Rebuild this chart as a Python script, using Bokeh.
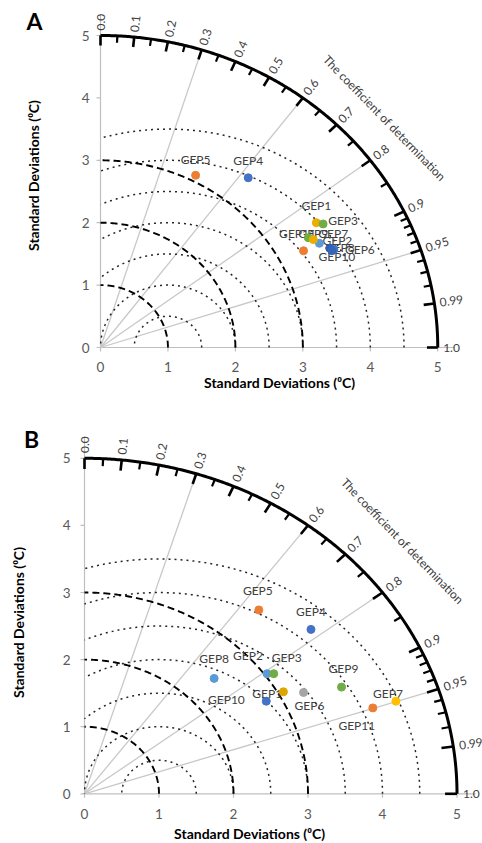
import numpy as np
from bokeh.plotting import figure
from bokeh.models import Range1d, ColumnDataSource
from bokeh.layouts import column
from bokeh.core.properties import value
from bokeh.embed import file_html
from bokeh.resources import INLINE

# ---------------- data ----------------
names = ["GEP1", "GEP2", "GEP3", "GEP4", "GEP5", "GEP6", "GEP7", "GEP8", "GEP9", "GEP10", "GEP11"]

# panel A : (x, y) in standard-deviation units
a_x = [3.20, 3.245, 3.30, 2.19, 1.41, 3.46, 3.08, 3.40, 3.155, 3.43, 3.01]
a_y = [2.00, 1.67, 1.98, 2.72, 2.76, 1.57, 1.76, 1.59, 1.73, 1.55, 1.55]

# panel B
b_x = [2.44, 2.45, 2.54, 3.04, 2.34, 2.94, 4.18, 1.74, 3.45, 2.67, 3.87]
b_y = [1.38, 1.79, 1.79, 2.45, 2.74, 1.51, 1.38, 1.72, 1.59, 1.52, 1.28]

sd_ticks = [0, 1, 2, 3, 4, 5]
sd_tick_labels = ["0", "1", "2", "3", "4", "5"]
sd_max = 5
ref_sd = 1.0
corr_major = [0.0, 0.1, 0.2, 0.3, 0.4, 0.5, 0.6, 0.7, 0.8, 0.9, 0.95, 0.99, 1.0]
corr_major_labels = ["0.0", "0.1", "0.2", "0.3", "0.4", "0.5", "0.6", "0.7", "0.8", "0.9", "0.95", "0.99", "1.0"]
corr_minor = [0.05, 0.15, 0.25, 0.35, 0.45, 0.55, 0.65, 0.75, 0.85, 0.91, 0.92, 0.93, 0.94, 0.96, 0.97, 0.98]
corr_lines = [0.3, 0.6, 0.8, 0.95]
sd_contours = [1, 2, 3]
rmsd_contours = [0.5, 1.0, 1.5, 2.0, 2.5, 3.0, 3.5]
axis_title = "Standard Deviations (⁰C)"
corr_title = "The coefficient of determination"

# ---------------- styles ----------------
a_colors = ["#E8AE00", "#5B9BD5", "#70AD47", "#4472C4", "#ED7D31", "#4472C4",
            "#70AD47", "#2F5FB3", "#E8AE00", "#3565B8", "#ED7D31"]
a_dx = [0, 18, 20, 0, 0, 26, 25, 10, 0, 5, -6]
a_dy = [-17, -3, -3, -17, -16, 0, -4, -1, -6, 6, -17]

b_colors = ["#4472C4", "#5B9BD5", "#70AD47", "#4472C4", "#ED7D31", "#A5A5A5",
            "#FFC000", "#5B9BD5", "#70AD47", "#DDA500", "#ED7D31"]
b_dx = [1, -19, 13, 0, -1, 6, -8, 0, 2, -57, -16]
b_dy = [-8, -18, -16, -18, -19, 13, -8, -20, -19, 8, 18]

FONT = "Lato"
TXT = "#404040"
W = 482


def make_fig(height, ox, oy, sx, sy):
    xr = Range1d(-ox / sx, (W - ox) / sx)
    yr = Range1d(-(height - oy) / sy, oy / sy)
    p = figure(width=W, height=height, x_range=xr, y_range=yr,
               x_axis_location=None, y_axis_location=None,
               output_backend="svg", toolbar_location=None,
               min_border_left=0, min_border_right=0, min_border_top=0, min_border_bottom=0)
    p.xgrid.visible = False
    p.ygrid.visible = False
    p.outline_line_color = None
    p.background_fill_color = "white"
    p.border_fill_color = "white"
    return p


def taylor(p, xs, ys, colors, dx, dy, letter, letter_xy, ylab_xy, xlab_xy, coef_xy,
           ylab_off, xlab_off):
    tk = np.array(sd_ticks, dtype=float)
    zeros = np.zeros_like(tk)
    # axis lines
    p.segment(x0=[0, 0], y0=[0, 0], x1=[5.25, 0], y1=[0, 5.33], line_color="#BFBFBF", line_width=1.2)
    # axis ticks (outward, 4px)
    p.ray(x=tk, y=zeros, length=4, length_units="screen", angle=-np.pi / 2,
          line_color="#BFBFBF", line_width=1.2)
    p.ray(x=zeros, y=tk, length=4, length_units="screen", angle=np.pi,
          line_color="#BFBFBF", line_width=1.2)
    p.text(x=tk, y=zeros, text=sd_tick_labels, y_offset=xlab_off, text_align="center",
           text_baseline="middle", text_font=value(FONT), text_font_size=value("13.5px"),
           text_color="#595959")
    p.text(x=zeros, y=tk, text=sd_tick_labels, x_offset=ylab_off, text_align="right",
           text_baseline="middle", text_font=value(FONT), text_font_size=value("13.5px"),
           text_color="#595959")

    # radial correlation lines
    th = np.arccos(np.array(corr_lines))
    p.segment(x0=0, y0=0, x1=sd_max * np.cos(th), y1=sd_max * np.sin(th),
              line_color="#C8C8C8", line_width=1.3)

    # RMSD contours around reference
    rx, ry = [], []
    for rho in rmsd_contours:
        pmax = np.pi if rho <= ref_sd else np.arccos(-ref_sd / rho)
        t = np.linspace(0, pmax, 300)
        rx.append(ref_sd + rho * np.cos(t))
        ry.append(rho * np.sin(t))
    p.multi_line(rx, ry, line_color="#262626", line_width=1.5, line_dash="2 4")

    # SD contours
    t = np.linspace(0, np.pi / 2, 300)
    p.multi_line([r * np.cos(t) for r in sd_contours], [r * np.sin(t) for r in sd_contours],
                 line_color="black", line_width=1.9, line_dash="7 4")

    # outer arc
    p.line(sd_max * np.cos(t), sd_max * np.sin(t), line_color="black", line_width=3)

    # correlation ticks (inward)
    tm = np.arccos(np.array(corr_major))
    p.segment(x0=sd_max * np.cos(tm), y0=sd_max * np.sin(tm),
              x1=(sd_max - 0.16) * np.cos(tm), y1=(sd_max - 0.16) * np.sin(tm),
              line_color="black", line_width=2.6)
    tn = np.arccos(np.array(corr_minor))
    p.segment(x0=sd_max * np.cos(tn), y0=sd_max * np.sin(tn),
              x1=(sd_max - 0.11) * np.cos(tn), y1=(sd_max - 0.11) * np.sin(tn),
              line_color="black", line_width=2.2)
    p.text(x=(sd_max + 0.08) * np.cos(tm), y=(sd_max + 0.08) * np.sin(tm), text=corr_major_labels,
           angle=tm, text_align="left", text_baseline="middle",
           text_font=value(FONT), text_font_size=value("12px"), text_color=TXT)

    # data labels and points
    src = ColumnDataSource(dict(x=xs, y=ys, name=names, c=colors, dx=dx, dy=dy))
    p.text(x="x", y="y", text="name", x_offset="dx", y_offset="dy", source=src,
           text_align="center", text_baseline="middle",
           text_font=value(FONT), text_font_size=value("12px"), text_color=TXT)
    p.scatter(x="x", y="y", size=8, fill_color="c", line_color="c", source=src)

    p.text(x=[coef_xy[0]], y=[coef_xy[1]], text=[corr_title], angle=-0.80,
           text_align="center", text_baseline="middle",
           text_font=value(FONT), text_font_size=value("12px"), text_color=TXT)
    p.text(x=[letter_xy[0]], y=[letter_xy[1]], text=[letter], text_align="center",
           text_baseline="middle", text_font=value(FONT), text_font_style="bold",
           text_font_size=value("23px"), text_color="black")
    p.text(x=[ylab_xy[0]], y=[ylab_xy[1]], text=[axis_title], angle=np.pi / 2,
           text_align="center", text_baseline="middle", text_font=value(FONT),
           text_font_style="bold", text_font_size=value("14px"), text_color="black")
    p.text(x=[xlab_xy[0]], y=[xlab_xy[1]], text=[axis_title],
           text_align="center", text_baseline="middle", text_font=value(FONT),
           text_font_style="bold", text_font_size=value("14px"), text_color="black")


# panel A: origin at (100, 347) px, 67.45 px/unit (x), 62.4 px/unit (y)
pA = make_fig(420, 100, 347, 67.45, 62.4)
taylor(pA, a_x, a_y, a_colors, a_dx, a_dy, "A", (-0.978, 5.24), (-0.993, 2.756), (2.654, -0.561),
       (4.211, 3.678), -11, 19)

# panel B: origin at (84, 373.3) px within its figure, 74.5 px/unit (x), 67.1 px/unit (y)
pB = make_fig(423, 84, 373.3, 74.5, 67.1)
taylor(pB, b_x, b_y, b_colors, b_dx, b_dy, "B", (-0.711, 5.288), (-0.886, 2.553), (2.215, -0.592),
       (4.268, 3.768), -14, 20)

layout = column(pA, pB, spacing=0)
open("out.html", "w").write(file_html(layout, INLINE))
